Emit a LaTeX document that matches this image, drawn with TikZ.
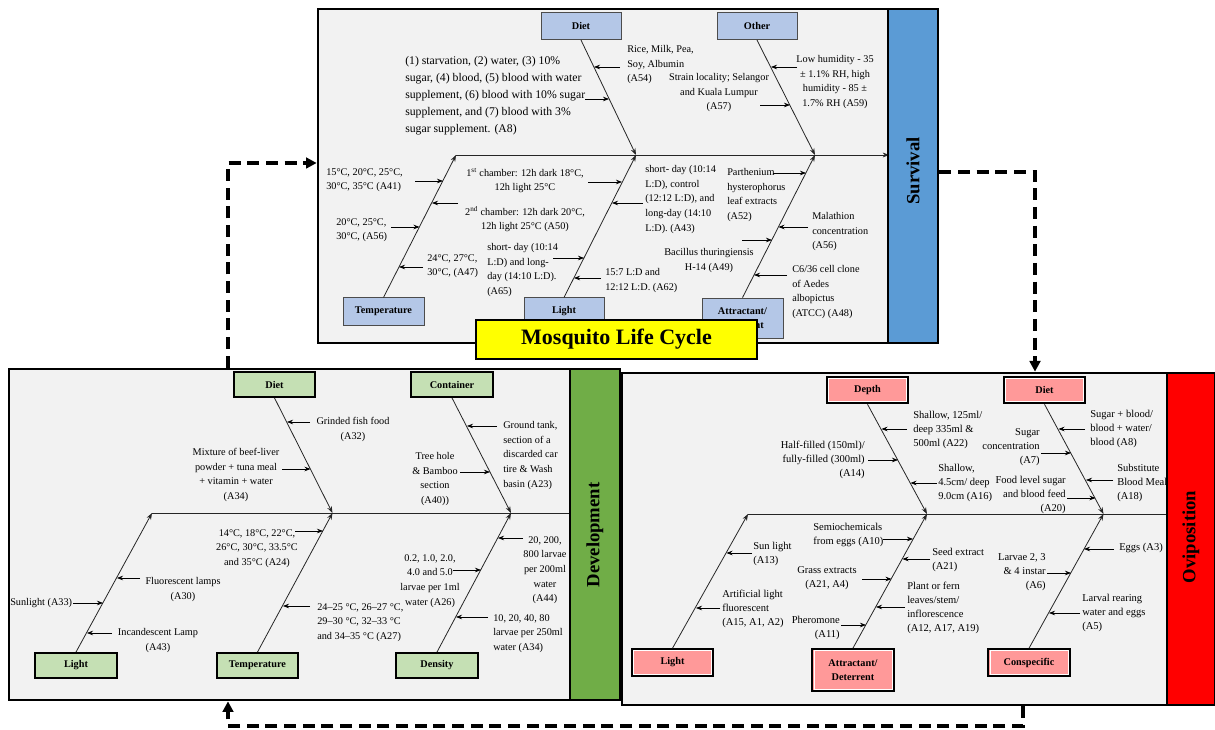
\documentclass[tikz,border=0pt]{standalone}
\usepackage{fontspec}
\setmainfont{Liberation Serif}
\usetikzlibrary{arrows.meta,fit,calc}
\definecolor{panelgray}{HTML}{F2F2F2}
\definecolor{topblue}{HTML}{B4C7E7}
\definecolor{boxgreen}{HTML}{C5E0B4}
\definecolor{boxpink}{HTML}{FF9999}
\definecolor{barblue}{HTML}{5B9BD5}
\definecolor{bargreen}{HTML}{70AD47}
\definecolor{barred}{HTML}{FF0000}
\definecolor{titleyellow}{HTML}{FFFF00}
\begin{document}
\begin{tikzpicture}[x=0.75pt,y=-0.75pt,
  panel/.style={draw=black, line width=2pt, fill=panelgray, inner sep=0pt},
  barbox/.style={draw=black, line width=2pt, inner sep=0pt},
  bartext/.style={rotate=90, font=\bfseries\fontsize{14}{16}\selectfont},
  lab/.style={inner sep=0pt, font=\fontsize{7.7}{11}\selectfont},
  labL/.style={inner sep=0pt, font=\fontsize{8.8}{12.75}\selectfont},
  labr/.style={inner sep=0pt, font=\fontsize{7.9}{10.5}\selectfont},
  arr/.style={-{Stealth[length=4.5pt,width=3.4pt]}, line width=0.5pt},
  bone/.style={line width=0.6pt, black!85},
  btip/.style={-{Stealth[length=5pt,width=3.6pt]}},
  tbox/.style={draw=black!70, line width=0.6pt, fill=topblue, inner sep=1pt, align=center,
    minimum width=60pt, minimum height=20.5pt, font=\bfseries\fontsize{7.7}{10}\selectfont},
  gbox/.style={draw=black, line width=1.4pt, fill=boxgreen, inner sep=1pt, align=center,
    minimum width=61pt, minimum height=18.75pt, font=\bfseries\fontsize{7.7}{10}\selectfont},
  pbox/.style={draw=black, line width=1.4pt, fill=boxpink, inner sep=1pt, align=center,
    minimum width=61pt, minimum height=20pt, font=\bfseries\fontsize{7.7}{10.5}\selectfont,
    path picture={\draw[white, line width=0.6pt]
      ([shift={(1.2pt,-1.2pt)}]path picture bounding box.north west) rectangle
      ([shift={(-1.2pt,1.2pt)}]path picture bounding box.south east);}},
  dconn/.style={line width=3pt, dash pattern=on 9pt off 5pt, -{Triangle[length=8pt,width=8pt]}}
]
\useasboundingbox (0,0) rectangle (1215,730);

% ---------------- panels ----------------
\node[panel, fit={(318,9)(888,343)}] (P1) {};
\node[panel, fit={(9,369)(570,700)}] (P2) {};
\node[panel, fit={(622,373)(1167,705)}] (P3) {};

% ================= TOP PANEL (Survival) =================
\coordinate (s1a) at (456,155);
\coordinate (s1b) at (636,155);
\coordinate (s1c) at (815,155);
\node[tbox] (tDiet) at (581,26) {Diet};
\node[tbox] (tOther) at (757,26) {Other};
\node[tbox, minimum width=60.75pt] (tTemp) at (383.5,311.5) {Temperature};
\node[tbox] (tLight) at (564,311.5) {Light};
\node[tbox, minimum width=60.75pt, minimum height=30pt] (tAttr) at (742.5,318) {Attractant/\\Deterrent};

\draw[bone,btip] (tDiet.south) -- (s1b);
\draw[bone,btip] (tOther.south) -- (s1c);
\draw[bone,btip] (tTemp.north) -- (s1a);
\draw[bone,btip] (tLight.north) -- (s1b);
\draw[bone,btip] (tAttr.north) -- (s1c);
\draw[bone,btip] (s1a) -- (P1.east |- s1a);

\draw[arr] (620,67) -- (594,67);
\draw[arr] (585,99) -- (609,99);
\draw[arr] (797,67) -- (771,67);
\draw[arr] (760,105) -- (790,105);
\draw[arr] (415,181) -- (443,181);
\draw[arr] (458,203) -- (432,203);
\draw[arr] (391,227) -- (419.5,227);
\draw[arr] (423,267) -- (399,267);
\draw[arr] (588,182) -- (622,182);
\draw[arr] (643,203) -- (612,203);
\draw[arr] (553,258) -- (584,258);
\draw[arr] (601,278) -- (574,278);
\draw[arr] (773,173) -- (806,173);
\draw[arr] (808,227) -- (778.5,227);
\draw[arr] (742,240) -- (772,240);
\draw[arr] (787,275) -- (754,275);

\node[lab,anchor=north west,align=left] (tl1) at (627,45) {Rice, Milk, Pea,\\Soy, Albumin\\(A54)};
\node[labL,anchor=north west,align=left] (tl2) at (405,56) {(1) starvation, (2) water, (3) 10\%\\sugar, (4) blood, (5) blood with water\\supplement, (6) blood with 10\% sugar\\supplement, and (7) blood with 3\%\\sugar supplement. (A8)};
\node[lab,anchor=north,align=center] (tl3) at (835,55) {Low humidity - 35\\± 1.1\% RH, high\\humidity - 85 ±\\1.7\% RH (A59)};
\node[lab,anchor=north,align=center] (tl4) at (719,73) {Strain locality; Selangor\\and Kuala Lumpur\\(A57)};
\node[lab,anchor=north west,align=left] (tl5) at (326,168) {15°C, 20°C, 25°C,\\30°C, 35°C (A41)};
\node[lab,anchor=north,align=center] (tl6) at (525,168) {1\textsuperscript{st} chamber: 12h dark 18°C,\\12h light 25°C};
\node[lab,anchor=north,align=center] (tl7) at (525,206) {2\textsuperscript{nd} chamber: 12h dark 20°C,\\12h light 25°C (A50)};
\node[lab,anchor=north west,align=left] (tl8) at (336,218) {20°C, 25°C,\\30°C, (A56)};
\node[lab,anchor=north west,align=left] (tl9) at (427,254) {24°C, 27°C,\\30°C, (A47)};
\node[lab,anchor=north west,align=left] (tl10) at (487,243) {short- day (10:14\\L:D) and long-\\day (14:10 L:D).\\(A65)};
\node[lab,anchor=north west,align=left] (tl11) at (605,268) {15:7 L:D and\\12:12 L:D. (A62)};
\node[lab,anchor=north west,align=left] (tl12) at (645,165) {short- day (10:14\\L:D), control\\(12:12 L:D), and\\long-day (14:10\\L:D). (A43)};
\node[lab,anchor=north west,align=left] (tl13) at (727,168) {Parthenium\\hysterophorus\\leaf extracts\\(A52)};
\node[lab,anchor=north west,align=left] (tl14) at (812,212) {Malathion\\concentration\\(A56)};
\node[lab,anchor=north,align=center] (tl15) at (709,248) {Bacillus thuringiensis\\H-14 (A49)};
\node[lab,anchor=north west,align=left] (tl16) at (792,265) {C6/36 cell clone\\of Aedes\\albopictus\\(ATCC) (A48)};

% ================= BOTTOM-LEFT PANEL (Development) =================
\coordinate (s2a) at (152,513);
\coordinate (s2b) at (332.5,513);
\coordinate (s2c) at (511,513);
\node[gbox] (gDiet) at (274.5,384.5) {Diet};
\node[gbox] (gCont) at (452,384.5) {Container};
\node[gbox] (gLight) at (76,665.5) {Light};
\node[gbox] (gTemp) at (257.5,665.5) {Temperature};
\node[gbox] (gDens) at (437,665.5) {Density};

\draw[bone,btip] (gDiet.south) -- (s2b);
\draw[bone,btip] (gCont.south) -- (s2c);
\draw[bone,btip] (gLight.north) -- (s2a);
\draw[bone,btip] (gTemp.north) -- (s2b);
\draw[bone,btip] (gDens.north) -- (s2c);
\draw[bone] (s2a) -- (P2.east |- s2a);

\draw[arr] (310,422) -- (287,422);
\draw[arr] (282,469) -- (310.5,469);
\draw[arr] (460,472) -- (490,472);
\draw[arr] (497,426) -- (467,426);
\draw[arr] (295,531) -- (323,531);
\draw[arr] (310,606) -- (283,606);
\draw[arr] (140,578) -- (117,578);
\draw[arr] (73,603) -- (103,603);
\draw[arr] (112,633) -- (87,633);
\draw[arr] (453,570) -- (481,570);
\draw[arr] (523,538) -- (498,538);
\draw[arr] (488,617) -- (456,617);

\node[lab,anchor=north,align=center] (gl1) at (353,417) {Grinded fish food\\(A32)};
\node[lab,anchor=north,align=center] (gl2) at (236,448) {Mixture of beef-liver\\powder + tuna meal\\+ vitamin + water\\(A34)};
\node[lab,anchor=north,align=center] (gl3) at (435,452) {Tree hole\\\& Bamboo\\section\\(A40))};
\node[lab,anchor=north west,align=left] (gl4) at (503,421) {Ground tank,\\section of a\\discarded car\\tire \& Wash\\basin (A23)};
\node[lab,anchor=north,align=center] (gl5) at (257,529) {14°C, 18°C, 22°C,\\26°C, 30°C, 33.5°C\\and 35°C (A24)};
\node[lab,anchor=north west,align=left] (gl6) at (317,603) {24–25 °C, 26–27 °C,\\29–30 °C, 32–33 °C\\and 34–35 °C (A27)};
\node[lab,anchor=north,align=center] (gl7) at (183,577) {Fluorescent lamps\\(A30)};
\node[lab,anchor=north west] (gl8) at (10,598) {Sunlight (A33)};
\node[lab,anchor=north,align=center] (gl9) at (158,628) {Incandescent Lamp\\(A43)};
\node[lab,anchor=north,align=center] (gl10) at (430,554) {0.2, 1.0, 2.0,\\4.0 and 5.0\\larvae per 1ml\\water (A26)};
\node[lab,anchor=north,align=center] (gl11) at (545,536) {20, 200,\\800 larvae\\per 200ml\\water\\(A44)};
\node[lab,anchor=north west,align=left] (gl12) at (493,614) {10, 20, 40, 80\\larvae per 250ml\\water (A34)};

% ================= BOTTOM-RIGHT PANEL (Oviposition) =================
\coordinate (s3a) at (748,514);
\coordinate (s3b) at (927,514);
\coordinate (s3c) at (1103.5,514);
\node[pbox] (pDepth) at (867.5,390) {Depth};
\node[pbox] (pDiet) at (1044.5,390) {Diet};
\node[pbox] (pLight) at (672.5,662.5) {Light};
\node[pbox, minimum height=31.5pt] (pAttr) at (853,670) {Attractant/\\Deterrent};
\node[pbox] (pCons) at (1029,662.5) {Conspecific};

\draw[bone,btip] (pDepth.south) -- (s3b);
\draw[bone,btip] (pDiet.south) -- (s3c);
\draw[bone,btip] (pLight.north) -- (s3a);
\draw[bone,btip] (pAttr.north) -- (s3b);
\draw[bone,btip] (pCons.north) -- (s3c);
\draw[bone] (s3a) -- (P3.east |- s3a);

\draw[arr] (907,429) -- (881.5,429);
\draw[arr] (868,460) -- (898,460);
\draw[arr] (937,483) -- (910.5,483);
\draw[arr] (1041,453) -- (1071,453);
\draw[arr] (1085,429) -- (1058.5,429);
\draw[arr] (1113,480) -- (1086,480);
\draw[arr] (1067,498) -- (1095.5,498);
\draw[arr] (883,539) -- (913,539);
\draw[arr] (930,559) -- (902.5,559);
\draw[arr] (862,579) -- (891.5,579);
\draw[arr] (905,607) -- (876,607);
\draw[arr] (841,625) -- (866,625);
\draw[arr] (752,553) -- (726.5,553);
\draw[arr] (720,608) -- (696,608);
\draw[arr] (1114,549) -- (1084,549);
\draw[arr] (1047,573) -- (1071,573);
\draw[arr] (1080,613) -- (1049,613);

\node[labr,anchor=north west,align=left] (pl1) at (913,411) {Shallow, 125ml/\\deep 335ml \&\\500ml (A22)};
\node[labr,anchor=north east,align=right] (pl2) at (865,441) {Half-filled (150ml)/\\fully-filled (300ml)\\(A14)};
\node[labr,anchor=north west,align=left] (pl3) at (938,464) {Shallow,\\4.5cm/ deep\\9.0cm (A16)};
\node[labr,anchor=north east,align=right] (pl4) at (1040,428) {Sugar\\concentration\\(A7)};
\node[labr,anchor=north west,align=left] (pl5) at (1090,410) {Sugar + blood/\\blood + water/\\blood (A8)};
\node[labr,anchor=north west,align=left] (pl6) at (1117,464) {Substitute\\Blood Meal\\(A18)};
\node[labr,anchor=north east,align=right] (pl7) at (1066,476) {Food level sugar\\and blood feed\\(A20)};
\node[labr,anchor=north west,align=left] (pl8) at (813,523) {Semiochemicals\\from eggs (A10)};
\node[labr,anchor=north west,align=left] (pl9) at (932,548) {Seed extract\\(A21)};
\node[labr,anchor=north,align=center] (pl10) at (827,566) {Grass extracts\\(A21, A4)};
\node[labr,anchor=north west,align=left] (pl11) at (907,582) {Plant or fern\\leaves/stem/\\inflorescence\\(A12, A17, A19)};
\node[labr,anchor=north east,align=right] (pl12) at (840,616) {Pheromone\\(A11)};
\node[labr,anchor=north west,align=left] (pl13) at (753,542) {Sun light\\(A13)};
\node[labr,anchor=north west,align=left] (pl14) at (722,590) {Artificial light\\fluorescent\\(A15, A1, A2)};
\node[labr,anchor=north west] (pl15) at (1119,543) {Eggs (A3)};
\node[labr,anchor=north east,align=right] (pl16) at (1046,553) {Larvae 2, 3\\\& 4 instar\\(A6)};
\node[labr,anchor=north west,align=left] (pl17) at (1082,594) {Larval rearing\\water and eggs\\(A5)};

% ---------------- side bars ----------------
\node[barbox, fill=barblue, fit={(888,9)(938,343)}] (B1) {};
\node[bartext] (B1t) at (913,171) {Survival};
\node[barbox, fill=bargreen, fit={(570,369)(620,700)}] (B2) {};
\node[bartext] (B2t) at (595,535) {Development};
\node[barbox, fill=barred, fit={(1167,373)(1215,705)}] (B3) {};
\node[bartext] (B3t) at (1191,537) {Oviposition};

% ---------------- title ----------------
\node[draw=black, line width=2pt, fill=titleyellow, minimum width=210.75pt, minimum height=29.25pt,
  inner sep=0pt, font=\bfseries\fontsize{16.5}{18}\selectfont] (title) at (616.5,339.5) {Mosquito Life Cycle};

% ---------------- dashed cycle connectors ----------------
\coordinate (c1) at (228,163);
\coordinate (c2) at (1035,172);
\coordinate (c3) at (1023,726);
\coordinate (c4) at (228,726);
\draw[dconn] (c1 |- P2.north) |- (P1.west |- c1);
\draw[dconn] (B1.east |- c2) -| (c2 |- P3.north);
\draw[dconn] (c3 |- P3.south) -- (c3) -- (c4) -- (c4 |- P2.south);
\end{tikzpicture}
\end{document}
